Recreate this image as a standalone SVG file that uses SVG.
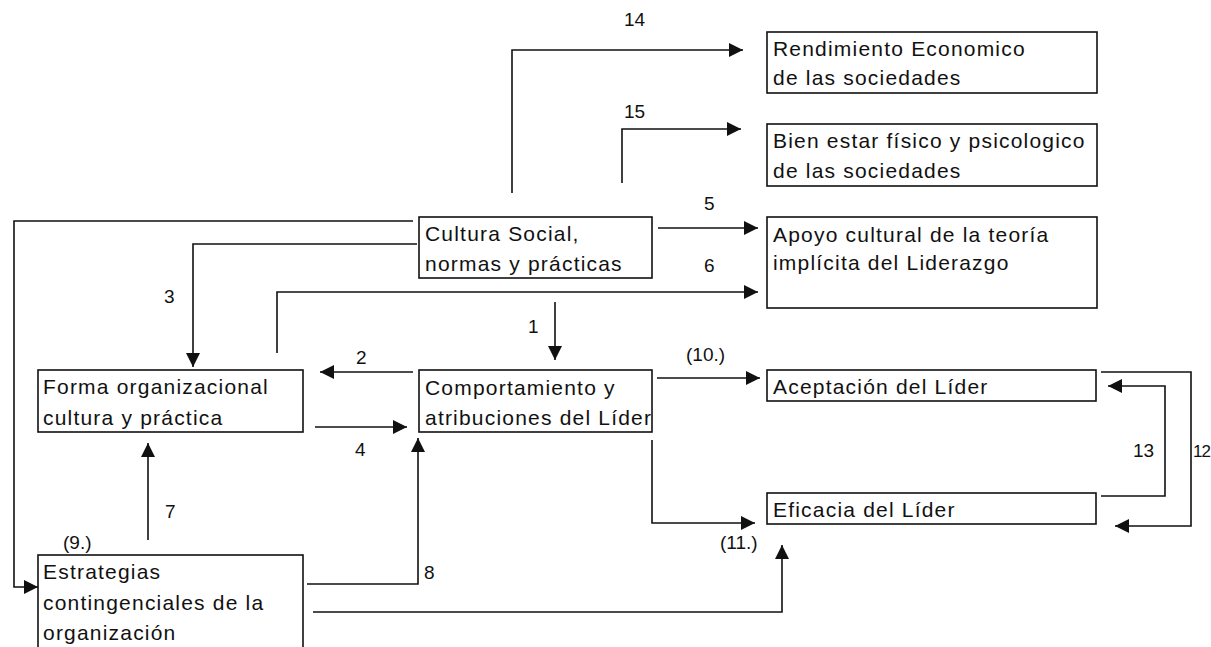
<svg xmlns="http://www.w3.org/2000/svg" width="1211" height="647" viewBox="0 0 1211 647">
<style>
.box{fill:#fff;stroke:#111;stroke-width:1.6}
.t{font-family:"Liberation Sans",Arial,sans-serif;font-size:21px;letter-spacing:1.2px;fill:#111}
.l{font-family:"Liberation Sans",Arial,sans-serif;font-size:19px;fill:#111}
.c{fill:none;stroke:#111;stroke-width:1.6;marker-end:url(#ah)}
.n{fill:none;stroke:#111;stroke-width:1.6}
</style>
<defs>
<marker id="ah" markerUnits="userSpaceOnUse" markerWidth="14" markerHeight="14" viewBox="0 0 14 14" refX="14" refY="7" orient="auto">
<path d="M0,0 L14,7 L0,14 z" fill="#111"/>
</marker>
</defs>
<rect width="1211" height="647" fill="#fff"/>
<g id="connectors">
<path class="c" d="M555,302 V360"/>
<path class="c" d="M413,372 H320"/>
<path class="c" d="M417,244 H193 V367"/>
<path class="c" d="M315,427 H407"/>
<path class="c" d="M658,228 H758"/>
<path class="c" d="M277,353 V292 H758"/>
<path class="c" d="M148,540 V443"/>
<path class="c" d="M307,584 H418 V438"/>
<path class="c" d="M413,221 H14 V587 H38"/>
<path class="c" d="M657,378 H760"/>
<path class="c" d="M652,440 V523 H755"/>
<path class="c" d="M313,612 H782 V545"/>
<path class="c" d="M1101,372 H1191 V526 H1115"/>
<path class="c" d="M1101,496 H1165 V386 H1108"/>
<path class="c" d="M512,193 V50 H743"/>
<path class="c" d="M622,183 V129 H741"/>
<text class="l" x="624" y="26">14</text>
<text class="l" x="624" y="118">15</text>
<text class="l" x="704" y="210">5</text>
<text class="l" x="704" y="272">6</text>
<text class="l" x="164" y="303">3</text>
<text class="l" x="356" y="364">2</text>
<text class="l" x="528" y="333">1</text>
<text class="l" x="355" y="456">4</text>
<text class="l" x="165" y="518">7</text>
<text class="l" x="424" y="579">8</text>
<text class="l" x="63" y="549">(9.)</text>
<text class="l" x="686" y="361">(10.)</text>
<text class="l" x="720" y="549">(11.)</text>
<text class="l" x="1133" y="457">13</text>
<text class="l" x="1193" y="457" style="font-size:17px;letter-spacing:-1px">12</text>
</g>
<g id="rendimiento">
<rect class="box" x="767" y="32" width="330" height="61"/>
<text class="t" x="773" y="56">Rendimiento Economico</text>
<text class="t" x="773" y="85">de las sociedades</text>
</g>
<g id="bienestar">
<rect class="box" x="767" y="124" width="330" height="62"/>
<text class="t" x="773" y="148">Bien estar físico y psicologico</text>
<text class="t" x="773" y="178">de las sociedades</text>
</g>
<g id="apoyo">
<rect class="box" x="767" y="217" width="330" height="91"/>
<text class="t" x="773" y="242">Apoyo cultural de la teoría</text>
<text class="t" x="773" y="270">implícita del Liderazgo</text>
</g>
<g id="cultura">
<rect class="box" x="419" y="217" width="233" height="61"/>
<text class="t" x="425" y="241">Cultura Social,</text>
<text class="t" x="425" y="271">normas y prácticas</text>
</g>
<g id="forma">
<rect class="box" x="38" y="370" width="265" height="62"/>
<text class="t" x="43" y="394">Forma organizacional</text>
<text class="t" x="43" y="425">cultura y práctica</text>
</g>
<g id="comportamiento">
<rect class="box" x="419" y="370" width="233" height="62"/>
<text class="t" x="425" y="395">Comportamiento y</text>
<text class="t" x="425" y="425">atribuciones del Líder</text>
</g>
<g id="aceptacion">
<rect class="box" x="767" y="370" width="329" height="31"/>
<text class="t" x="773" y="394">Aceptación del Líder</text>
</g>
<g id="eficacia">
<rect class="box" x="767" y="493" width="329" height="31"/>
<text class="t" x="773" y="517">Eficacia del Líder</text>
</g>
<g id="estrategias">
<rect class="box" x="38" y="555" width="265" height="100"/>
<text class="t" x="43" y="579">Estrategias</text>
<text class="t" x="43" y="610">contingenciales de la</text>
<text class="t" x="43" y="640">organización</text>
</g>
</svg>
